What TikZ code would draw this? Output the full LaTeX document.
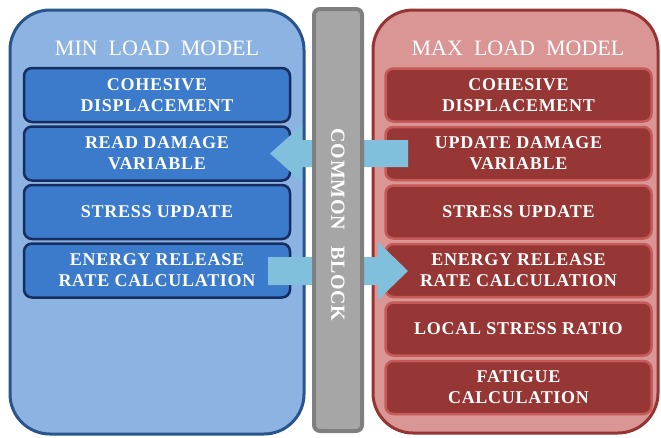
\documentclass[tikz,border=0pt]{standalone}
\usepackage{fontspec}
\setmainfont{Liberation Serif}

\definecolor{minpanel}{RGB}{141,179,226}
\definecolor{minedge}{RGB}{40,85,140}
\definecolor{minfill}{RGB}{60,122,204}
\definecolor{minline}{RGB}{22,45,95}
\definecolor{maxpanel}{RGB}{217,150,148}
\definecolor{maxedge}{RGB}{150,52,50}
\definecolor{maxfill}{RGB}{150,55,53}
\definecolor{maxline}{RGB}{197,90,88}
\definecolor{commonfill}{RGB}{166,166,166}
\definecolor{commonedge}{RGB}{127,127,127}
\definecolor{linkblue}{RGB}{128,192,220}

\begin{document}
\begin{tikzpicture}[x=1pt,y=-1pt,
    boxtext/.style={text=white,align=center,inner sep=0pt,
      font=\bfseries\fontsize{18}{21}\selectfont\addfontfeature{LetterSpace=4}},
    minbox/.style={boxtext,draw=minline,fill=minfill,line width=2.5pt,
      rounded corners=8pt,minimum width=266pt,minimum height=54pt},
    maxbox/.style={boxtext,draw=maxline,fill=maxfill,line width=2.5pt,
      rounded corners=8pt,minimum width=266pt,minimum height=53pt},
    paneltitle/.style={text=white,font=\fontsize{22}{26}\selectfont}]
  \useasboundingbox (0,0) rectangle (661,437);

  % the two model panels
  \draw[fill=minpanel,draw=minedge,line width=3pt,rounded corners=40pt]
    (10,10) rectangle (304,434);
  \draw[fill=maxpanel,draw=maxedge,line width=3pt,rounded corners=40pt]
    (373,10) rectangle (658,433);

  \node[paneltitle] (mintitle) at (157,48) {MIN\ \ LOAD\ \ MODEL};
  \node[paneltitle] (maxtitle) at (518,48) {MAX\ \ LOAD\ \ MODEL};

  % min load model steps
  \node[minbox] (mincoh) at (157,95) {COHESIVE\\DISPLACEMENT};
  \node[minbox] (minread) at (157,153.5) {READ DAMAGE\\VARIABLE};
  \node[minbox] (minstress) at (157,212) {STRESS UPDATE};
  \node[minbox] (minenergy) at (157,270.5) {ENERGY RELEASE\\RATE CALCULATION};

  % max load model steps
  \node[maxbox] (maxcoh) at (518.5,95) {COHESIVE\\DISPLACEMENT};
  \node[maxbox] (maxupdate) at (518.5,153.5) {UPDATE DAMAGE\\VARIABLE};
  \node[maxbox] (maxstress) at (518.5,212) {STRESS UPDATE};
  \node[maxbox] (maxenergy) at (518.5,270.5) {ENERGY RELEASE\\RATE CALCULATION};
  \node[maxbox] (maxratio) at (518.5,329) {LOCAL STRESS RATIO};
  \node[maxbox] (maxfatigue) at (518.5,387.5) {FATIGUE\\CALCULATION};

  % block arrows through the common block
  \fill[linkblue] (408,140) -- (302,140) -- (302,125) -- (270,153.5)
    -- (302,182) -- (302,167) -- (408,167) -- cycle;
  \fill[linkblue] (268,257) -- (378,257) -- (378,242) -- (408,271)
    -- (378,300) -- (378,285) -- (268,285) -- cycle;

  % common block
  \draw[fill=commonfill,draw=commonedge,line width=4pt,rounded corners=6pt]
    (314,9) rectangle (362,431);
  \node[rotate=-90,text=white,
    font=\bfseries\fontsize{20}{24}\selectfont\addfontfeature{LetterSpace=3}]
    (common) at (338,225) {COMMON\ \ \ BLOCK};
\end{tikzpicture}
\end{document}
